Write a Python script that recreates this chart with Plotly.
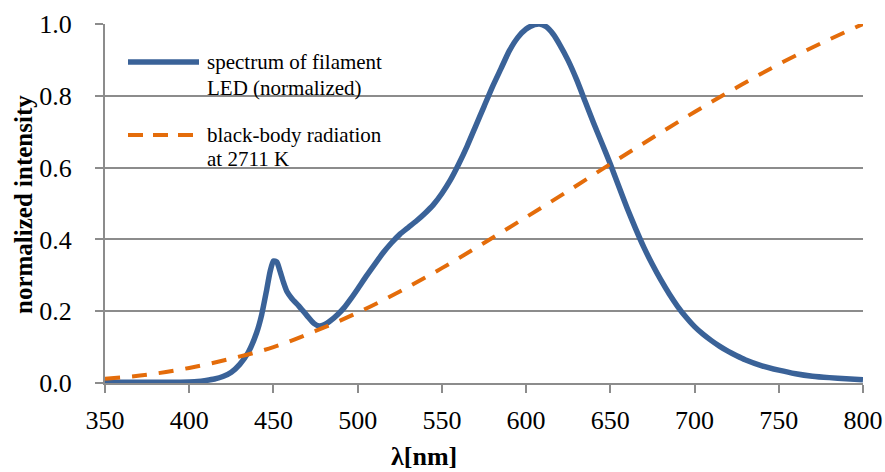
import plotly.graph_objects as go

# ---- data ----
led_wavelength = [350, 360, 370, 380, 390, 400, 405, 410, 415, 420, 425, 430, 435, 440, 443, 446,
                  448, 450, 452, 454, 456, 458, 461, 465, 470, 474, 477, 480, 484, 488, 492, 496,
                  500, 505, 510, 515, 520, 525, 530, 535, 540, 545, 550, 555, 560, 565, 570, 575,
                  580, 585, 590, 595, 600, 605, 608, 612, 616, 620, 625, 630, 635, 640, 645, 650,
                  655, 660, 665, 670, 675, 680, 685, 690, 695, 700, 705, 710, 715, 720, 725, 730,
                  740, 750, 760, 770, 780, 790, 800]
led_intensity = [0.003, 0.002, 0.002, 0.002, 0.002, 0.003, 0.004, 0.007, 0.011, 0.018, 0.030, 0.052,
                 0.085, 0.140, 0.190, 0.260, 0.310, 0.340, 0.337, 0.310, 0.280, 0.255, 0.235, 0.215,
                 0.187, 0.166, 0.159, 0.162, 0.174, 0.190, 0.210, 0.235, 0.262, 0.297, 0.330, 0.362,
                 0.390, 0.414, 0.433, 0.452, 0.473, 0.497, 0.528, 0.565, 0.610, 0.660, 0.715, 0.770,
                 0.825, 0.875, 0.925, 0.962, 0.986, 0.998, 1.000, 0.992, 0.972, 0.942, 0.898, 0.845,
                 0.785, 0.725, 0.668, 0.610, 0.548, 0.487, 0.430, 0.377, 0.330, 0.287, 0.248, 0.213,
                 0.183, 0.157, 0.136, 0.118, 0.102, 0.088, 0.076, 0.065, 0.048, 0.036, 0.026, 0.019,
                 0.015, 0.012, 0.009]

bb_wavelength = [350, 375, 400, 425, 450, 475, 500, 525, 550, 575, 600, 625, 650, 675, 700, 725,
                 750, 775, 800]
bb_intensity = [0.012, 0.023, 0.042, 0.068, 0.100, 0.145, 0.196, 0.255, 0.320, 0.390, 0.462, 0.535,
                0.610, 0.683, 0.755, 0.823, 0.888, 0.946, 1.000]

x_ticks = [350, 400, 450, 500, 550, 600, 650, 700, 750, 800]
y_ticks = [0.0, 0.2, 0.4, 0.6, 0.8, 1.0]
y_tick_labels = ["0.0", "0.2", "0.4", "0.6", "0.8", "1.0"]

legend_led = ["spectrum of filament", "LED (normalized)"]
legend_bb = ["black-body radiation", "at 2711 K"]
x_title = "λ[nm]"
y_title = "normalized intensity"

# ---- styles ----
BLUE = "#3A6298"
ORANGE = "#E46C0A"
GRID = "#8C8C8C"
SERIF = "Liberation Serif"

fig = go.Figure()
fig.add_trace(go.Scatter(x=led_wavelength, y=led_intensity, mode="lines",
                         line=dict(color=BLUE, width=5.5, shape="spline", smoothing=0.6),
                         showlegend=False, name=" ".join(legend_led)))
fig.add_trace(go.Scatter(x=bb_wavelength, y=bb_intensity, mode="lines",
                         line=dict(color=ORANGE, width=4, dash="15px,12px", shape="spline"),
                         showlegend=False, name=" ".join(legend_bb)))

W, H = 885, 472
L, R, T, B = 105, 22, 24, 89
pw, ph = W - L - R, H - T - B


def px(xp):
    return (xp - L) / pw


def py(yp):
    return (H - B - yp) / ph


shapes = [
    dict(type="rect", xref="paper", yref="paper", x0=px(113), x1=px(397), y0=py(180), y1=py(36),
         fillcolor="white", line=dict(width=0), layer="between"),
    dict(type="line", xref="paper", yref="paper", x0=px(128), x1=px(199), y0=py(62), y1=py(62),
         line=dict(color=BLUE, width=5.5)),
    dict(type="line", xref="paper", yref="paper", x0=px(128), x1=px(199), y0=py(135), y1=py(135),
         line=dict(color=ORANGE, width=4, dash="15px,10px")),
]

annotations = []
for txt, yc in zip(legend_led + legend_bb, [62, 88, 135, 159]):
    annotations.append(dict(text=txt, xref="paper", yref="paper", x=px(205), y=py(yc),
                            xanchor="left", yanchor="middle", showarrow=False,
                            font=dict(family=SERIF, size=21, color="black")))
annotations.append(dict(text="<b>" + x_title + "</b>", xref="paper", yref="paper", x=px(424), y=py(456),
                        xanchor="center", yanchor="middle", showarrow=False,
                        font=dict(family=SERIF, size=26, color="black")))
annotations.append(dict(text="<b>" + y_title + "</b>", xref="paper", yref="paper", x=px(24), y=py(205),
                        xanchor="center", yanchor="middle", showarrow=False, textangle=-90,
                        font=dict(family=SERIF, size=25, color="black")))

fig.update_layout(
    width=W, height=H,
    margin=dict(l=L, r=R, t=T, b=B, autoexpand=False),
    paper_bgcolor="white", plot_bgcolor="white",
    shapes=shapes, annotations=annotations,
    xaxis=dict(range=[350, 800], tickvals=x_ticks, ticks="outside", ticklen=8, tickwidth=1.5,
               tickcolor=GRID, showline=True, linecolor=GRID, linewidth=2, showgrid=False,
               zeroline=False, automargin=False,
               tickfont=dict(family=SERIF, size=26, color="black"), ticklabelstandoff=5),
    yaxis=dict(range=[0, 1.0], tickvals=y_ticks, ticktext=y_tick_labels, ticks="outside", ticklen=8,
               tickwidth=1.5, tickcolor=GRID, showline=True, linecolor=GRID, linewidth=2,
               showgrid=True, gridcolor=GRID, gridwidth=1.5, zeroline=False, automargin=False,
               tickfont=dict(family=SERIF, size=26, color="black"), ticklabelstandoff=18),
)

fig.write_html("out.html", config={"displayModeBar": False},
               post_script="document.body.style.margin='0';")
